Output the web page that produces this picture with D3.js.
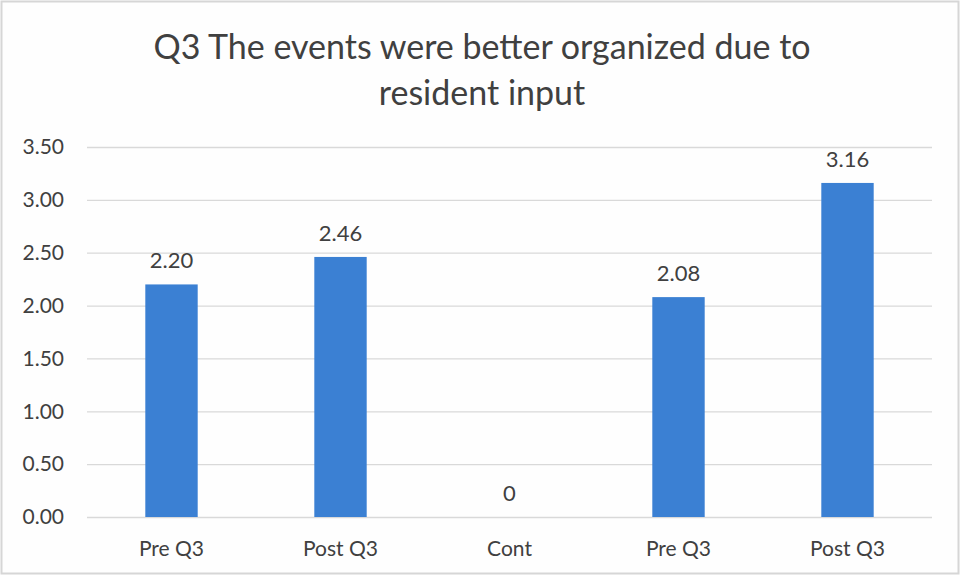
<!DOCTYPE html>
<html>
<head>
<meta charset="utf-8">
<script src="https://cdn.jsdelivr.net/npm/d3@7"></script>
<style>
  body { margin: 0; background: #ffffff; }
  svg text { font-family: Lato, "Open Sans", sans-serif; fill: #404040; }
</style>
</head>
<body>
<div id="container"></div>
<script>
const categories = ["Pre Q3", "Post Q3", "Cont", "Pre Q3", "Post Q3"];
const values = [2.20, 2.46, 0, 2.08, 3.16];
const valueLabels = ["2.20", "2.46", "0", "2.08", "3.16"];
const yTicks = [0, 0.5, 1, 1.5, 2, 2.5, 3, 3.5];
const titleLines = ["Q3 The events were better organized due to", "resident input"];

const width = 960;
const height = 575;
const plot = {left: 87, right: 932, top: 147, bottom: 517};

const svg = d3.select("div#container")
    .append("svg")
    .attr("width", width)
    .attr("height", height);

// chart frame
svg.append("rect")
    .attr("x", 1.5).attr("y", 1.5)
    .attr("width", width - 3).attr("height", height - 3)
    .attr("fill", "#fefefe")
    .attr("stroke", "#d6d6d6")
    .attr("stroke-width", 2);

const xScale = d3.scaleBand()
    .domain(d3.range(categories.length))
    .range([plot.left, plot.right])
    .paddingInner(0.69)
    .paddingOuter(0.345);

const yScale = d3.scaleLinear()
    .domain([0, 3.5])
    .range([plot.bottom, plot.top]);

// gridlines + y labels
const yaxis = d3.axisLeft(yScale)
    .tickValues(yTicks)
    .tickFormat(d3.format(".2f"))
    .tickSize(-(plot.right - plot.left))
    .tickPadding(23);

const gy = svg.append("g")
    .attr("transform", "translate(" + plot.left + ",0)")
    .call(yaxis);
gy.select(".domain").remove();
gy.selectAll(".tick line").attr("stroke", "#d9d9d9").attr("stroke-width", 1.3);
gy.selectAll(".tick text").style("font-size", "21px");

// bars
svg.selectAll("rect.bar")
    .data(values)
    .enter()
    .append("rect")
    .attr("class", "bar")
    .attr("x", function(d, i) { return xScale(i); })
    .attr("width", xScale.bandwidth())
    .attr("y", function(d) { return yScale(d); })
    .attr("height", function(d) { return yScale(0) - yScale(d); })
    .attr("fill", "#3b80d3");

// data labels
svg.selectAll("text.val")
    .data(values)
    .enter()
    .append("text")
    .attr("class", "val")
    .attr("x", function(d, i) { return xScale(i) + xScale.bandwidth() / 2; })
    .attr("y", function(d) { return yScale(d) - 16; })
    .attr("text-anchor", "middle")
    .style("font-size", "22px")
    .text(function(d, i) { return valueLabels[i]; });

// category labels
const xaxis = d3.axisBottom(xScale)
    .tickFormat(function(i) { return categories[i]; })
    .tickSize(0)
    .tickPadding(24);

const gx = svg.append("g")
    .attr("transform", "translate(0," + plot.bottom + ")")
    .call(xaxis);
gx.select(".domain").remove();
gx.selectAll(".tick text").style("font-size", "21px");

// title
svg.append("g")
    .selectAll("text")
    .data(titleLines)
    .enter()
    .append("text")
    .attr("x", 482)
    .attr("y", function(d, i) { return 59 + i * 46; })
    .attr("text-anchor", "middle")
    .style("font-size", "34px")
    .text(function(d) { return d; });
</script>
</body>
</html>
